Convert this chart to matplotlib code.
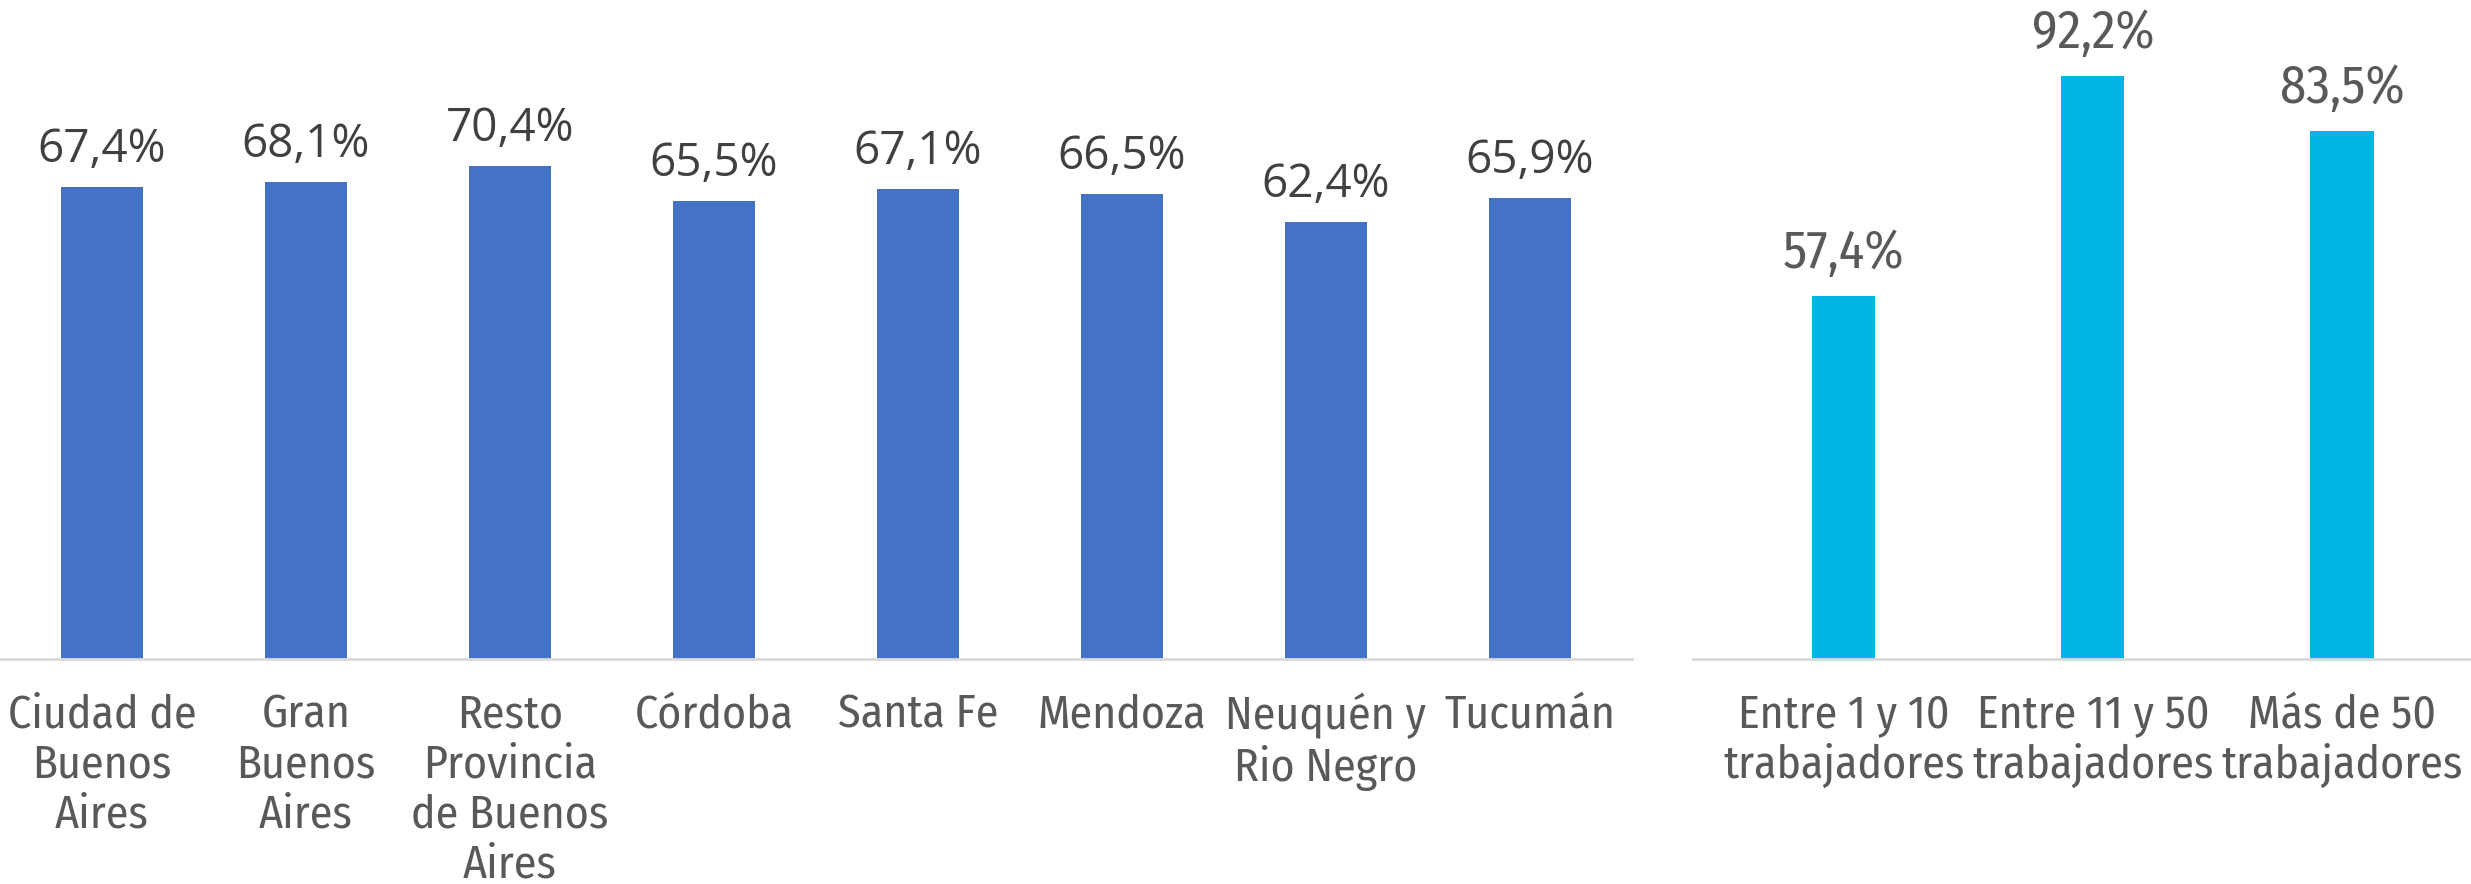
import numpy as np
import matplotlib.pyplot as plt

regiones = ["Ciudad de\nBuenos\nAires", "Gran\nBuenos\nAires", "Resto\nProvincia\nde Buenos\nAires",
            "Córdoba", "Santa Fe", "Mendoza", "Neuquén y\nRio Negro", "Tucumán"]
val_regiones = [67.4, 68.1, 70.4, 65.5, 67.1, 66.5, 62.4, 65.9]

tamanos = ["Entre 1 y 10\ntrabajadores", "Entre 11 y 50\ntrabajadores", "Más de 50\ntrabajadores"]
val_tamanos = [57.4, 92.2, 83.5]

W, H = 2471, 884
fig = plt.figure(figsize=(W / 100, H / 100), dpi=100)

narrow = ["Fira Sans Condensed", "Roboto Condensed", "Archivo Narrow", "DejaVu Sans"]
gris = "#595959"

# panel izquierdo
ax1 = fig.add_axes([0, 225 / H, 1632 / W, 659 / H])
x1 = np.arange(len(regiones))
ax1.bar(x1, val_regiones, width=0.40, color="#4472C4")
ax1.set_xlim(-0.5, 7.5)
ax1.set_ylim(0, 659 / 7.0)
for xi, v in zip(x1, val_regiones):
    ax1.annotate(f"{v:.1f}%".replace(".", ","), (xi, v), xytext=(0, 10), textcoords="offset points",
                 ha="center", va="bottom", fontsize=33, family="Open Sans", color="#404040")
ax1.set_xticks(x1)
ax1.set_xticklabels(regiones, family=narrow, fontsize=33, color=gris, linespacing=1.17)

# panel derecho
ax2 = fig.add_axes([1693 / W, 225 / H, 778 / W, 659 / H])
x2 = np.arange(len(tamanos))
ax2.bar(x2, val_tamanos, width=0.253, color="#00B4E5")
ax2.set_xlim(-0.606, 2.518)
ax2.set_ylim(0, 659 / 6.32)
for xi, v in zip(x2, val_tamanos):
    ax2.annotate(f"{v:.1f}%".replace(".", ","), (xi, v), xytext=(0, 12), textcoords="offset points",
                 ha="center", va="bottom", fontsize=38, family=narrow, color=gris)
ax2.set_xticks(x2)
ax2.set_xticklabels(tamanos, family=narrow, fontsize=33, color=gris, linespacing=1.17)

for ax in (ax1, ax2):
    for s in ["top", "right", "left"]:
        ax.spines[s].set_visible(False)
    ax.spines["bottom"].set_color("#D9D9D9")
    ax.spines["bottom"].set_linewidth(2)
    ax.set_yticks([])
    ax.tick_params(axis="x", length=0, pad=24)

fig.savefig("out.png", dpi=100)
